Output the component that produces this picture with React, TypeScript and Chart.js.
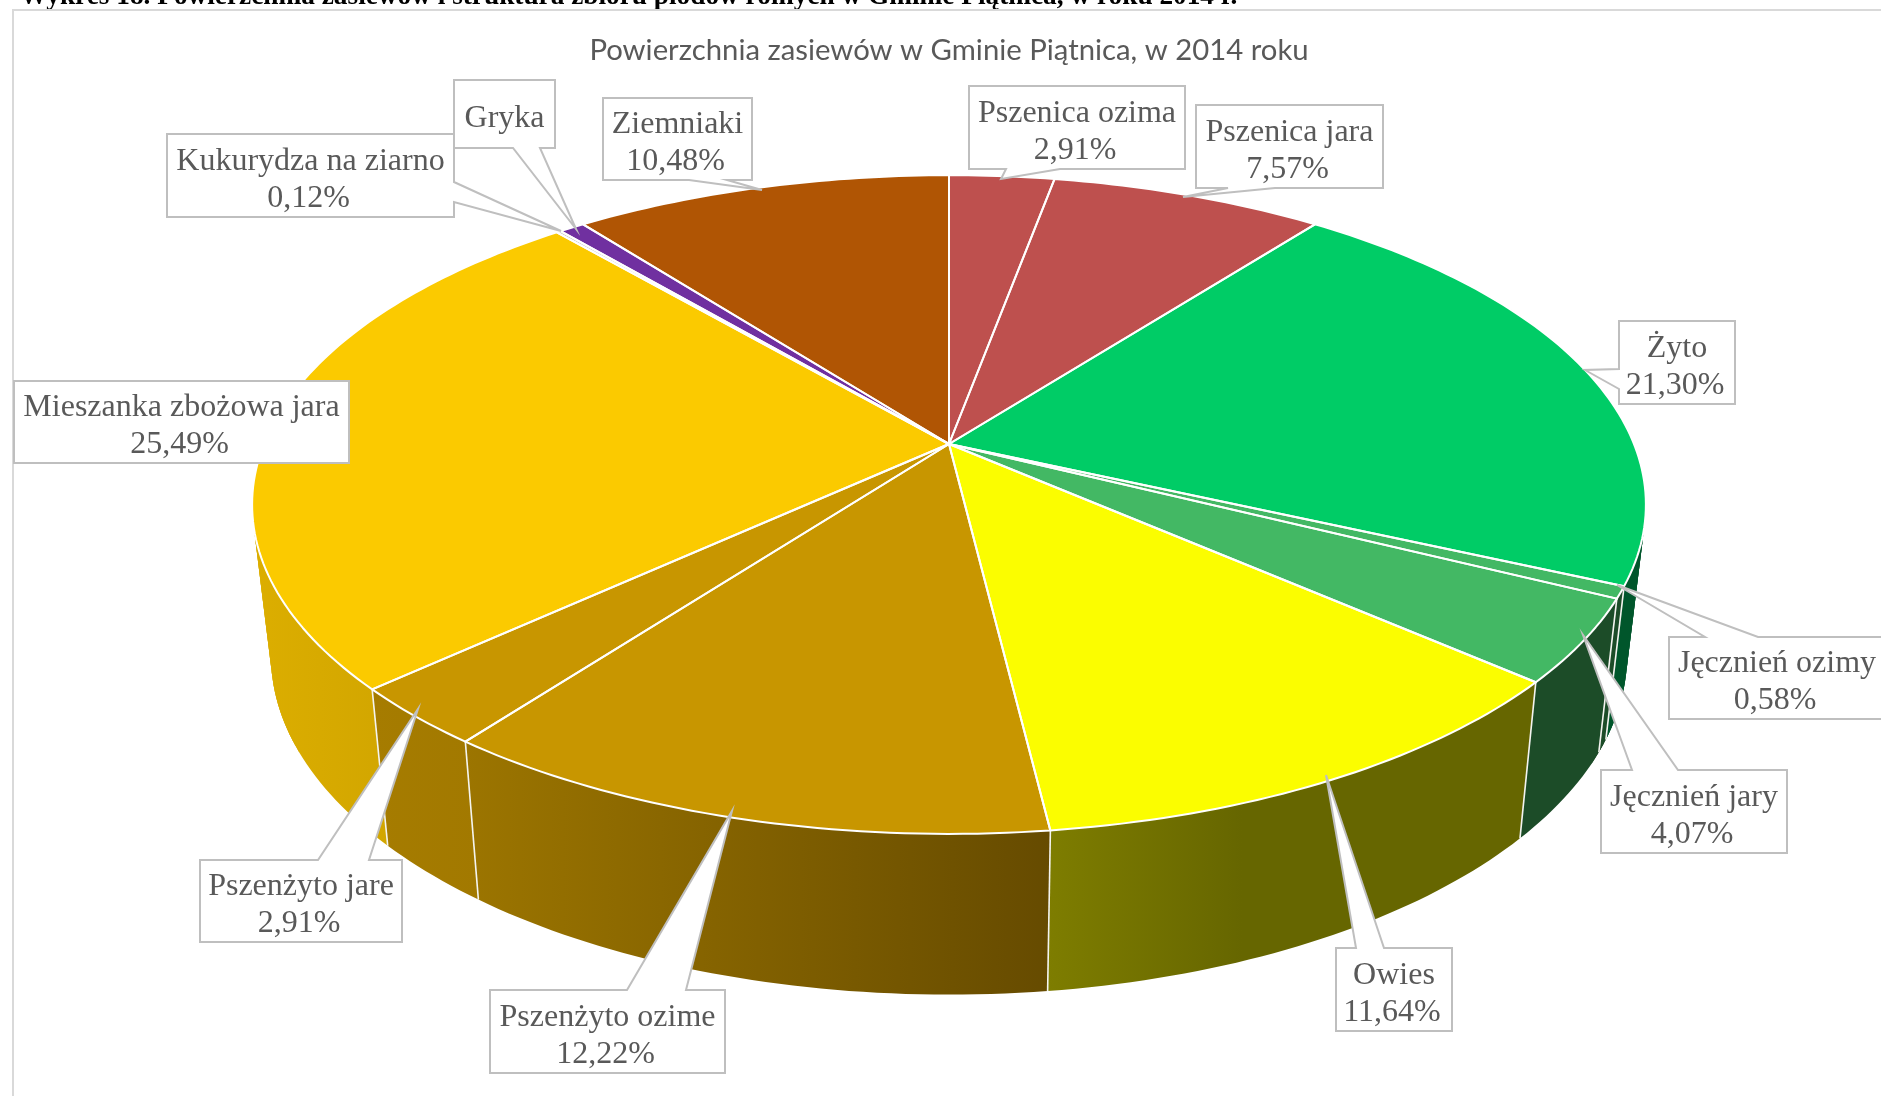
import React, { useEffect, useRef } from "react";
import { Chart, registerables } from "chart.js";

Chart.register(...registerables);

const categories = [
  "Pszenica ozima", "Pszenica jara", "Żyto", "Jęcznień ozimy", "Jęcznień jary", "Owies",
  "Pszenżyto ozime", "Pszenżyto jare", "Mieszanka zbożowa jara", "Kukurydza na ziarno", "Gryka", "Ziemniaki",
];
const areaShares = [2.91, 7.57, 21.3, 0.58, 4.07, 11.64, 12.22, 2.91, 25.49, 0.12, 0.71, 10.48];
const showValueInLabel = [true, true, true, true, true, true, true, true, true, true, false, true];
const topColors = [
  "#BE504E", "#BE504E", "#00CC66", "#43B864", "#43B864", "#FBFD00",
  "#C89600", "#C89600", "#FBCA00", "#C0C0C0", "#7030A0", "#B05504",
];
const wallLeftColors = [
  "#6E2C2B", "#6E2C2B", "#00562B", "#1C4C28", "#1C4C28", "#7E7D00",
  "#9C7500", "#A67C00", "#DCAE00", "#777777", "#401A60", "#663000",
];
const wallRightColors = [
  "#6E2C2B", "#6E2C2B", "#00562B", "#1C4C28", "#1C4C28", "#666600",
  "#664B00", "#A27900", "#D2A600", "#777777", "#401A60", "#663000",
];
const chartTitle = "Powierzchnia zasiewów w Gminie Piątnica, w 2014 roku";
const captionText = "Wykres 18. Powierzchnia zasiewów i struktura zbioru płodów rolnych w Gminie Piątnica, w roku 2014 r.";

// x, y, w, h, side of the pointer, pointer base a, pointer base b, tip x, tip y
const calloutLayout: [number, number, number, number, string, number, number, number, number][] = [
  [969, 86, 216, 83, "b", 1006, 1060, 1001, 179],
  [1196, 105, 187, 83, "b", 1228, 1275, 1183, 197],
  [1619, 321, 116, 83, "l", 369, 389, 1585, 370],
  [1669, 637, 230, 82, "t", 1705, 1758, 1617, 585],
  [1601, 770, 186, 83, "t", 1632, 1678, 1583, 635],
  [1336, 948, 116, 83, "t", 1356, 1384, 1326, 775],
  [490, 990, 235, 83, "t", 627, 686, 732, 811],
  [200, 860, 202, 82, "t", 318, 369, 418, 709],
  [14, 381, 335, 82, "", 0, 0, 0, 0],
  [167, 134, 287, 83, "r", 182, 202, 561, 231],
  [454, 80, 101, 68, "b", 513, 540, 576, 229],
  [603, 98, 149, 82, "b", 689, 727, 762, 190],
];

const CX = 949, CY = 444, RY = 318.2, RX = 685, K = 0.1839;
const BOTTOM_SX = 0.973, BOTTOM_SY = 1.03, BOTTOM_DY = 149;

const topPoint = (a: number) => {
  const w = 1 - K * Math.sin(a);
  return { x: CX + (RX * Math.cos(a)) / w, y: CY + (RY * Math.sin(a)) / w };
};
const bottomPoint = (a: number) => {
  const p = topPoint(a);
  return { x: CX + BOTTOM_SX * (p.x - CX), y: CY + BOTTOM_DY + BOTTOM_SY * (p.y - CY) };
};
const samples = (s: number, e: number) => {
  const n = Math.max(2, Math.ceil((e - s) / (Math.PI / 180)));
  const out: number[] = [];
  for (let i = 0; i <= n; i++) out.push(s + ((e - s) * i) / n);
  return out;
};

const perspectivePie = {
  id: "perspectivePie",
  beforeDraw(chart: any) {
    const ctx = chart.ctx;
    ctx.save();
    ctx.fillStyle = "#fff";
    ctx.fillRect(0, 0, chart.width, chart.height);
    ctx.fillStyle = "#000";
    ctx.font = "bold 27.3px 'Liberation Serif'";
    ctx.textBaseline = "alphabetic";
    ctx.fillText(captionText, 20, 4);
    ctx.strokeStyle = "#D9D9D9";
    ctx.lineWidth = 2;
    ctx.strokeRect(13, 10, chart.width + 20, chart.height + 20);
    ctx.restore();
  },
  beforeDatasetsDraw(chart: any) {
    const ctx = chart.ctx;
    const arcs = chart.getDatasetMeta(0).data.map((el: any, i: number) => {
      const p = el.getProps(["startAngle", "endAngle"], true);
      return { i, s: p.startAngle, e: p.endAngle, fill: el.options.backgroundColor };
    });
    ctx.save();
    ctx.lineJoin = "round";
    // outer walls, back to front; overlapping thin quads sweep the silhouette
    [...arcs]
      .sort((m: any, n: any) => Math.sin((m.s + m.e) / 2) - Math.sin((n.s + n.e) / 2))
      .forEach((arc: any) => {
        const ts = samples(arc.s, arc.e);
        const upper = ts.map(topPoint);
        const lower = ts.map(bottomPoint);
        const front = ts.filter((a) => Math.sin(a) > 0.2);
        const xs = (front.length ? [...front.map(topPoint), ...front.map(bottomPoint)] : [...upper, ...lower]).map((p) => p.x);
        const g = ctx.createLinearGradient(Math.min(...xs), 0, Math.max(...xs), 0);
        g.addColorStop(0, wallLeftColors[arc.i]);
        if (arc.i === 5) g.addColorStop(0.4, wallRightColors[arc.i]);
        g.addColorStop(1, wallRightColors[arc.i]);
        ctx.fillStyle = g;
        ctx.beginPath();
        upper.forEach((p: any, j: number) => (j ? ctx.lineTo(p.x, p.y) : ctx.moveTo(p.x, p.y)));
        [...lower].reverse().forEach((p: any) => ctx.lineTo(p.x, p.y));
        ctx.closePath();
        ctx.fill();
        for (let j = 0; j < ts.length - 1; j++) {
          if (Math.sin(ts[j]) > 0.45) continue;
          const k = Math.min(j + 2, ts.length - 1);
          ctx.beginPath();
          ctx.moveTo(upper[j].x, upper[j].y);
          ctx.lineTo(upper[k].x, upper[k].y);
          ctx.lineTo(lower[k].x, lower[k].y);
          ctx.lineTo(lower[j].x, lower[j].y);
          ctx.closePath();
          ctx.fill();
        }
      });
    // seams between walls on the visible front
    ctx.strokeStyle = "#F4F4F0";
    ctx.lineWidth = 1.6;
    arcs.forEach((arc: any) => {
      if (Math.sin(arc.e) > 0.3) {
        const p = topPoint(arc.e), q = bottomPoint(arc.e);
        ctx.beginPath();
        ctx.moveTo(p.x, p.y);
        ctx.lineTo(q.x, q.y);
        ctx.stroke();
      }
    });
    // top face
    arcs.forEach((arc: any) => {
      ctx.beginPath();
      ctx.moveTo(CX, CY);
      samples(arc.s, arc.e).forEach((a) => {
        const p = topPoint(a);
        ctx.lineTo(p.x, p.y);
      });
      ctx.closePath();
      ctx.fillStyle = arc.fill;
      ctx.fill();
    });
    ctx.strokeStyle = "#FFFFFF";
    ctx.lineWidth = 2;
    arcs.forEach((arc: any) => {
      ctx.beginPath();
      ctx.moveTo(CX, CY);
      samples(arc.s, arc.e).forEach((a) => {
        const p = topPoint(a);
        ctx.lineTo(p.x, p.y);
      });
      ctx.closePath();
      ctx.stroke();
    });
    ctx.restore();
    return false;
  },
  afterDraw(chart: any) {
    const ctx = chart.ctx;
    ctx.save();
    ctx.font = "32px 'Liberation Serif'";
    ctx.textAlign = "center";
    ctx.textBaseline = "middle";
    categories.forEach((name, i) => {
      const [x, y, w, h, side, b1, b2, tx, ty] = calloutLayout[i];
      ctx.beginPath();
      ctx.moveTo(x, y);
      if (side === "t") {
        ctx.lineTo(b1, y);
        ctx.lineTo(tx, ty);
        ctx.lineTo(b2, y);
      }
      ctx.lineTo(x + w, y);
      if (side === "r") {
        ctx.lineTo(x + w, b1);
        ctx.lineTo(tx, ty);
        ctx.lineTo(x + w, b2);
      }
      ctx.lineTo(x + w, y + h);
      if (side === "b") {
        ctx.lineTo(b2, y + h);
        ctx.lineTo(tx, ty);
        ctx.lineTo(b1, y + h);
      }
      ctx.lineTo(x, y + h);
      if (side === "l") {
        ctx.lineTo(x, b2);
        ctx.lineTo(tx, ty);
        ctx.lineTo(x, b1);
      }
      ctx.closePath();
      ctx.fillStyle = "#FFFFFF";
      ctx.fill();
      ctx.strokeStyle = "#BFBFBF";
      ctx.lineWidth = 2;
      ctx.stroke();
      ctx.fillStyle = "#595959";
      const cx = i === 3 ? 1777 : x + w / 2;
      const cy = y + h / 2 + 4.5;
      if (showValueInLabel[i]) {
        const value = areaShares[i].toFixed(2).replace(".", ",") + "%";
        ctx.fillText(name, cx, cy - 18.5);
        ctx.fillText(value, cx - 2, cy + 18.5);
      } else {
        ctx.fillText(name, cx, cy);
      }
    });
    ctx.restore();
  },
};

export default function App() {
  const ref = useRef<HTMLCanvasElement>(null);
  useEffect(() => {
    const chart = new Chart(ref.current as HTMLCanvasElement, {
      type: "pie",
      data: {
        labels: categories,
        datasets: [{ data: areaShares, backgroundColor: topColors, borderWidth: 0 }],
      },
      options: {
        responsive: false,
        animation: false,
        layout: { padding: { top: 33, left: 17 } },
        plugins: {
          legend: { display: false },
          tooltip: { enabled: false },
          title: {
            display: true,
            text: chartTitle,
            color: "#595959",
            font: { family: "Lato", size: 29.3, weight: "normal" },
            padding: 0,
          },
        },
      },
      plugins: [perspectivePie],
    } as any);
    return () => chart.destroy();
  }, []);
  return (
    <div style={{ position: "fixed", left: 0, top: 0, width: 1881, height: 1096, background: "#fff" }}>
      <canvas ref={ref} width={1881} height={1096} style={{ display: "block" }} />
    </div>
  );
}
